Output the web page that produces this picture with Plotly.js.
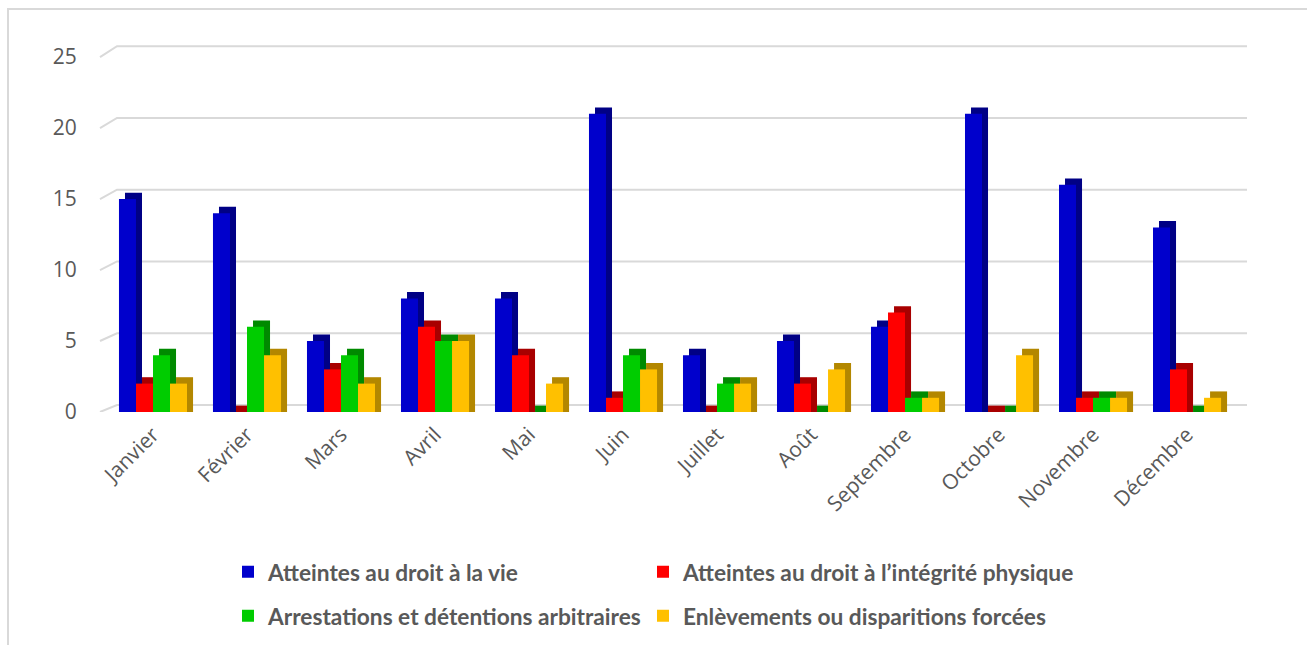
<!DOCTYPE html>
<html><head><meta charset="utf-8">
<script src="https://cdn.plot.ly/plotly-3.0.1.min.js"></script>
<style>
html,body{margin:0;padding:0;background:#fff;}
#chart{width:1307px;height:645px;position:absolute;left:0;top:0;}
#frame{position:absolute;left:7px;top:8px;width:1320px;height:660px;border-left:2px solid #d9d9d9;border-top:2px solid #d9d9d9;pointer-events:none;}
</style>
</head><body><div id="chart"></div><div id="frame"></div>
<script>
const months = ["Janvier","Février","Mars","Avril","Mai","Juin","Juillet","Août","Septembre","Octobre","Novembre","Décembre"];
const seriesNames = ["Atteintes au droit à la vie","Atteintes au droit à l’intégrité physique","Arrestations et détentions arbitraires","Enlèvements ou disparitions forcées"];
const vie =          [15,14,5,8,8,21,4,5,6,21,16,13];
const integrite =    [2,0,3,6,4,1,0,2,7,0,1,3];
const arrestations = [4,6,4,5,0,4,2,0,1,0,1,0];
const enlevements =  [2,4,2,5,2,3,2,3,1,4,1,1];
const yTicks = [0,5,10,15,20,25];

const series = [vie, integrite, arrestations, enlevements];
const frontColors = ["#0000CC","#FF0000","#00CC00","#FFC000"];
const sideColors  = ["#000085","#A80000","#008A00","#B38700"];
const legendIds = ["legend","legend2","legend3","legend4"];

// geometry of the pseudo-3D look
const W = 1307, H = 645, mL = 106, mR = 60, mT = 40, mB = 233;
const plotW = W - mL - mR, plotH = H - mT - mB;
const yMax = 26.2;
const pxPerUnit = plotH / yMax;
const barW = 0.181, firstOff = -0.362, depthX = 0.064, depthY = 0.45;
const wallShiftPx = 7, wallScale = 1.011;
const frontXpx = 100, backXpx = 117;

const data = [];
series.forEach((vals,i)=>{
  data.push({type:'bar', x:months, y:vals.map(v=>v+depthY), base:0,
    offset:firstOff+i*barW+depthX, width:barW,
    marker:{color:sideColors[i], line:{width:0}}, showlegend:false, hoverinfo:'skip'});
});
series.forEach((vals,i)=>{
  data.push({type:'bar', name:seriesNames[i], x:months, y:vals,
    offset:firstOff+i*barW, width:barW, legend:legendIds[i],
    marker:{color:frontColors[i], line:{width:0}}});
});

const px2paper = p => (p - mL) / plotW;
const shapes = yTicks.map(v=>{
  const back = v*wallScale + wallShiftPx/pxPerUnit;
  return {type:'path', xref:'paper', yref:'y', layer:'below',
    path:`M${px2paper(frontXpx)},${v} L${px2paper(backXpx)},${back} L1,${back}`,
    line:{color:'#d9d9d9', width:2}};
});

const legFont = {family:'Lato', size:22.7, color:'#595959', weight:'bold'};
const legPos = [[228,572],[643,572],[228,616],[643,616]];
const mkLegend = ([x,y]) => ({orientation:'h', xref:'container', yref:'container', x:x/W, y:1-y/H,
    xanchor:'left', yanchor:'middle', font:legFont, bgcolor:'rgba(0,0,0,0)'});

const layout = {
  width:W, height:H,
  margin:{l:mL, r:mR, t:mT, b:mB},
  paper_bgcolor:'#fff', plot_bgcolor:'rgba(0,0,0,0)',
  barmode:'overlay',
  xaxis:{type:'category', range:[-0.5, 11.638], showgrid:false, zeroline:false, showline:false,
    tickangle:-45, ticks:'outside', ticklen:1, tickcolor:'rgba(0,0,0,0)',
    tickfont:{family:'Open Sans', size:21, color:'#595959'}},
  yaxis:{range:[0, yMax], tickvals:yTicks, showgrid:false, zeroline:false, showline:false,
    ticks:'outside', ticklen:24, tickcolor:'rgba(0,0,0,0)',
    tickfont:{family:'Open Sans', size:21, color:'#595959'}},
  shapes:shapes,
  legend:mkLegend(legPos[0]),
  legend2:mkLegend(legPos[1]),
  legend3:mkLegend(legPos[2]),
  legend4:mkLegend(legPos[3]),
  showlegend:true
};
Plotly.newPlot('chart', data, layout, {displayModeBar:false, staticPlot:true});
</script>
</body></html>
